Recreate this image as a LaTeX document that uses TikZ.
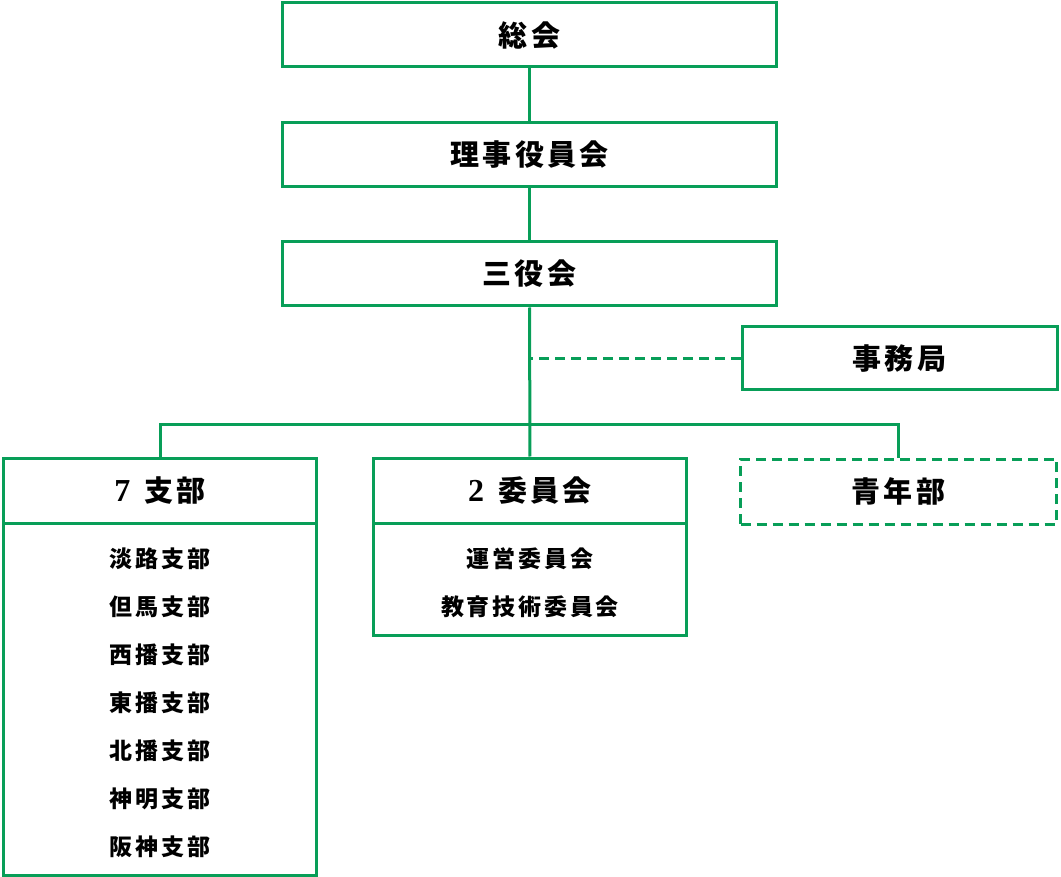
\documentclass[tikz,border=0pt]{standalone}
\usepackage{fontspec}
\usetikzlibrary{positioning}
\newfontfamily\cjk[LetterSpace=12]{Noto Sans CJK JP}
\newfontfamily\num{Liberation Serif}
\definecolor{OrgGreen}{RGB}{8,158,88}

\tikzset{
    caja/.style={draw=OrgGreen, line width=3pt, fill=white, inner sep=0pt,
        font=\cjk\bfseries\fontsize{29}{30}\selectfont, text=black},
    cajaLista/.style={caja, font=\cjk\bfseries\fontsize{23}{48}\selectfont, align=center},
    linea/.style={draw=OrgGreen, line width=3pt},
    lineaPunt/.style={linea, dash pattern=on 10pt off 6pt}
}

\begin{document}
\begin{tikzpicture}[x=1pt, y=-1pt]
\useasboundingbox (0,0) rectangle (1061,877);

% conectores
\coordinate (bus) at (530,425);

% niveles superiores
\node[caja, minimum width=494pt, minimum height=64pt] (soukai) at (529.5,35) {総会};
\node[caja, minimum width=494pt, minimum height=64pt] (riji) at (529.5,155) {理事役員会};
\node[caja, minimum width=494pt, minimum height=64pt] (sanyaku) at (529.5,274) {三役会};
\node[caja, minimum width=315pt, minimum height=63pt] (jimu) at (899.5,358.5) {事務局};

% ramas
\node[caja, minimum width=313pt, minimum height=65pt] (shibu) at (160,490.5)
    {{\num\bfseries\fontsize{32}{30}\selectfont 7}\hspace{14pt}支部};
\node[cajaLista, minimum width=313pt, minimum height=352pt] (shibuLista) at (160,699)
    {\rule{0pt}{27pt}淡路支部\\但馬支部\\西播支部\\東播支部\\北播支部\\神明支部\\阪神支部};
\node[caja, minimum width=313pt, minimum height=65pt] (iinkai) at (530,490.5)
    {{\num\bfseries\fontsize{32}{30}\selectfont 2}\hspace{14pt}委員会};
\node[cajaLista, minimum width=313pt, minimum height=112pt] (iinkaiLista) at (530,579)
    {\rule{0pt}{27pt}運営委員会\\教育技術委員会};
\node[caja, lineaPunt, minimum width=316pt, minimum height=65pt] (seinen) at (898.5,491.5) {青年部};

\draw[linea] (soukai) -- (riji);
\draw[linea] (riji) -- (sanyaku);
\draw[linea] (sanyaku) -- (iinkai);
\draw[linea] (shibu.north) |- (bus) -| (seinen.north);
\draw[lineaPunt] (jimu.west) -- (jimu.west -| sanyaku.south);

\end{tikzpicture}
\end{document}
